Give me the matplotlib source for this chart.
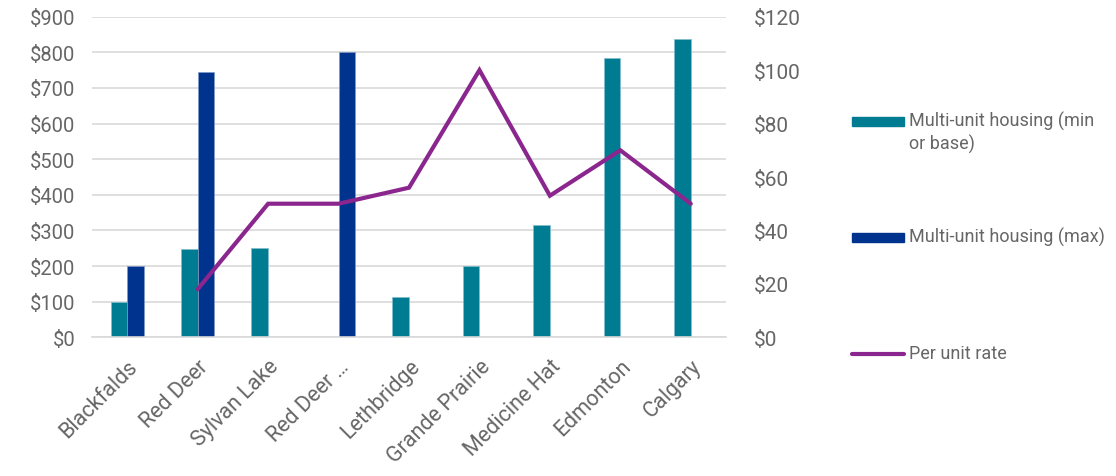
import matplotlib
matplotlib.use("Agg")
import matplotlib.pyplot as plt
import numpy as np
from matplotlib.patches import Rectangle
from matplotlib.lines import Line2D

plt.rcParams['font.family'] = ['Roboto', 'DejaVu Sans']

categories = ["Blackfalds", "Red Deer", "Sylvan Lake", "Red Deer …", "Lethbridge",
              "Grande Prairie", "Medicine Hat", "Edmonton", "Calgary"]
min_base = [100, 247, 250, np.nan, 112, 200, 315, 785, 837]
max_vals = [200, 744, np.nan, 800, np.nan, np.nan, np.nan, np.nan, np.nan]
per_unit = [np.nan, 18, 50, 50, 56, 100, 53, 70, 50]

left_ticks = list(range(0, 901, 100))
right_ticks = list(range(0, 121, 20))

TEAL = "#007C92"
BLUE = "#00338D"
PURPLE = "#8B268E"
TEXT = "#666666"
GRID = "#D9D9D9"

fig = plt.figure(figsize=(11.16, 4.77), dpi=100)
ax = fig.add_axes([92 / 1116, 1 - 338.3 / 477, (726 - 92) / 1116, 320.6 / 477])
ax2 = ax.twinx()

x = np.arange(len(categories))
w = 0.237
ax.bar(x - w / 2, min_base, width=w, color=TEAL, edgecolor="#7FBFCB", linewidth=0.5, zorder=2)
ax.bar(x + w / 2, max_vals, width=w, color=BLUE, edgecolor="#7F99C6", linewidth=0.5, zorder=2)
ax2.plot(x, per_unit, color=PURPLE, linewidth=3.0, solid_capstyle="round",
         solid_joinstyle="miter", zorder=3)

ax.set_xlim(-0.5, len(categories) - 0.5)
ax.set_ylim(0, 900)
ax2.set_ylim(0, 120)
ax.set_yticks(left_ticks)
ax.set_yticklabels([f"${v}" for v in left_ticks])
ax2.set_yticks(right_ticks)
ax2.set_yticklabels([f"${v}" for v in right_ticks])

ax.yaxis.grid(True, color=GRID, linewidth=1.2, zorder=0)
ax.set_axisbelow(True)
for a in (ax, ax2):
    for s in a.spines.values():
        s.set_visible(False)
    a.tick_params(axis="y", length=0, labelsize=14.5, labelcolor=TEXT)
ax.spines["bottom"].set_visible(True)
ax.spines["bottom"].set_color(GRID)
ax.spines["bottom"].set_linewidth(1.2)
ax.tick_params(axis="y", pad=12)
ax2.tick_params(axis="y", labelsize=15, pad=20)

ax.set_xticks(x)
ax.set_xticklabels(categories, rotation=45, ha="right", va="top",
                   rotation_mode="anchor", fontsize=15.5, color=TEXT)
ax.tick_params(axis="x", length=0, pad=13)

# legend drawn on the right of the figure
legend_items = [
    ("patch", TEAL, 122, "Multi-unit housing (min\nor base)"),
    ("patch", BLUE, 238, "Multi-unit housing (max)"),
    ("line", PURPLE, 355, "Per unit rate"),
]
for kind, col, ypx, label in legend_items:
    yf = 1 - ypx / 477
    if kind == "patch":
        fig.add_artist(Rectangle((852 / 1116, yf - 4.5 / 477), 52 / 1116, 9 / 477,
                                 transform=fig.transFigure, color=col))
    else:
        fig.add_artist(Line2D([852 / 1116, 904 / 1116], [yf, yf], transform=fig.transFigure,
                              color=col, linewidth=3.0, solid_capstyle="round"))
    fig.text(909 / 1116, yf + 10 / 477, label, ha="left", va="top", fontsize=13,
             color=TEXT, linespacing=1.25)

fig.savefig("out.png", dpi=100)
